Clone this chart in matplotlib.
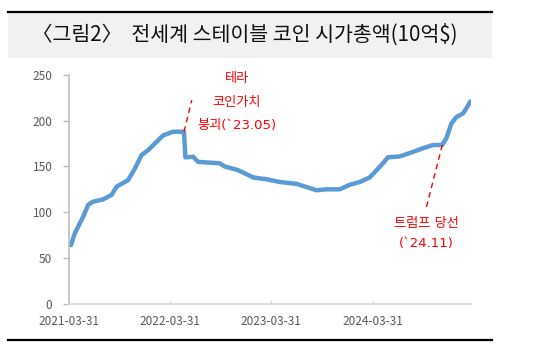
import pandas as pd
import numpy as np
from matplotlib import pyplot as plt, patches, lines
import matplotlib.dates as mdates

plt.rcParams['font.family'] = ['Noto Sans CJK KR', 'DejaVu Sans']

# 전세계 스테이블 코인 시가총액 (10억$)
dates = ['2021-04-07', '2021-04-21', '2021-05-21', '2021-06-08', '2021-06-26',
         '2021-08-01', '2021-09-01', '2021-09-19', '2021-10-30', '2021-11-24',
         '2021-12-18', '2022-01-11', '2022-02-10', '2022-03-06', '2022-04-11',
         '2022-05-20', '2022-05-25', '2022-06-22', '2022-07-10', '2022-09-26',
         '2022-10-14', '2022-12-01', '2023-01-25', '2023-03-14', '2023-05-01',
         '2023-06-30', '2023-09-10', '2023-10-16', '2023-12-03', '2024-01-08',
         '2024-02-13', '2024-03-20', '2024-04-14', '2024-05-07', '2024-05-25',
         '2024-07-07', '2024-08-24', '2024-09-29', '2024-11-04', '2024-12-07',
         '2024-12-22', '2025-01-09', '2025-01-27', '2025-02-20', '2025-03-04',
         '2025-03-18']
values = [64, 77, 95, 108, 111.5,
          114, 119, 128, 135, 148,
          162.5, 168, 177, 184, 188,
          188, 160, 160.6, 155, 153.5,
          150, 146, 138, 136, 133,
          131, 124, 125, 125, 130,
          133, 138, 146, 153.5, 160,
          161, 166, 170, 173.5, 173.5,
          181, 197, 204, 208, 213.5,
          221]

tick_dates = ['2021-03-31', '2022-03-31', '2023-03-31', '2024-03-31']
yticks = [0, 50, 100, 150, 200, 250]

title = '〈그림2〉  전세계 스테이블 코인 시가총액(10억$)'
terra_text = ['테라', '코인가치', '붕괴(`23.05)']
trump_text = ['트럼프 당선', '(`24.11)']

d = pd.to_datetime(dates)
td = pd.to_datetime(tick_dates)

fig = plt.figure(figsize=(5.35, 3.51), dpi=100)

# title band + black rules
fig.patches.append(patches.Rectangle((0.015, 0.835), 0.905, 0.128, transform=fig.transFigure,
                                     facecolor='#f1f1f1', edgecolor='none', zorder=0))
fig.lines.append(lines.Line2D([0.015, 0.92], [0.9655, 0.9655], transform=fig.transFigure,
                              color='black', lw=1.6))
fig.lines.append(lines.Line2D([0.015, 0.92], [0.031, 0.031], transform=fig.transFigure,
                              color='black', lw=1.6))
fig.text(0.458, 0.90, title, ha='center', va='center', fontsize=14.8, color='#111111',
         fontweight='medium')

ax = fig.add_axes([0.129, 0.1348, 0.751, 0.6515])
ax.plot(d, values, color='#5b9bd5', lw=3.2, solid_capstyle='round', solid_joinstyle='round')

ax.set_ylim(0, 250)
ax.set_xlim(pd.Timestamp('2021-03-31'), pd.Timestamp('2025-03-20'))
ax.set_yticks(yticks)
ax.set_xticks(td)
ax.set_xticklabels(tick_dates)

for s in ['top', 'right']:
    ax.spines[s].set_visible(False)
ax.spines['left'].set_color('#bfbfbf')
ax.spines['bottom'].set_color('#d9d9d9')
ax.spines['left'].set_linewidth(1.2)
ax.spines['bottom'].set_linewidth(1.2)
ax.tick_params(axis='y', colors='#bfbfbf', labelcolor='#595959', labelsize=8.5,
               length=4, width=1, pad=8)
ax.tick_params(axis='x', colors='#d9d9d9', labelcolor='#595959', labelsize=8.5,
               direction='in', length=3, width=1, pad=8)

ann_font = ['DejaVu Sans', 'Noto Sans CJK KR']

# Terra collapse annotation
ax.plot(pd.to_datetime(['2022-05-20', '2022-06-17']), [188, 222.5],
        color='red', lw=1, ls=(0, (4, 3)))
tx = pd.Timestamp('2022-11-26')
for txt, yy in zip(terra_text, [246.6, 220.4, 194.5]):
    ax.text(tx, yy, txt, color='red', fontsize=9.5, ha='center', va='center', family=ann_font)

# Trump election annotation
ax.plot(pd.to_datetime(['2024-12-07', '2024-10-11']), [173.5, 105.7],
        color='red', lw=1, ls=(0, (4, 3)))
tx2 = pd.Timestamp('2024-10-11')
for txt, yy in zip(trump_text, [87.9, 66]):
    ax.text(tx2, yy, txt, color='red', fontsize=9.5, ha='center', va='center', family=ann_font)

fig.savefig('out.png', dpi=100)
